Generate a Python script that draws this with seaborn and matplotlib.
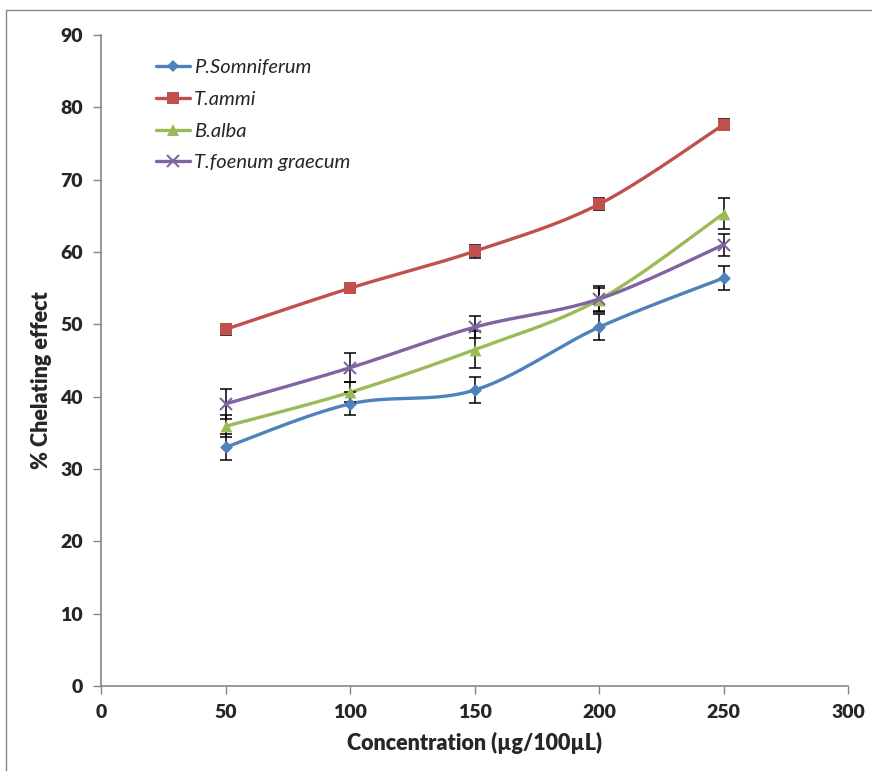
import numpy as np
import pandas as pd
import matplotlib
matplotlib.use("Agg")
import matplotlib.pyplot as plt
import seaborn as sns
from matplotlib.lines import Line2D

# ---- data ----
concentration = [50, 100, 150, 200, 250]
p_somniferum = [33.0, 39.0, 40.9, 49.6, 56.4]
t_ammi = [49.3, 55.0, 60.1, 66.6, 77.6]
b_alba = [35.9, 40.6, 46.5, 53.4, 65.3]
t_foenum = [39.0, 44.0, 49.6, 53.5, 61.0]
err_p_somniferum = [1.8, 1.6, 1.8, 1.8, 1.6]
err_t_ammi = [0.8, 0.7, 0.9, 0.8, 0.8]
err_b_alba = [1.5, 1.4, 2.6, 1.6, 2.1]
err_t_foenum = [2.1, 2.0, 1.5, 1.8, 1.5]
series_names = ["P.Somniferum", "T.ammi", "B.alba", "T.foenum graecum"]
x_ticks = [0, 50, 100, 150, 200, 250, 300]
y_ticks = [0, 10, 20, 30, 40, 50, 60, 70, 80, 90]

series_vals = [p_somniferum, t_ammi, b_alba, t_foenum]
series_errs = [err_p_somniferum, err_t_ammi, err_b_alba, err_t_foenum]
colors = ["#4F81BD", "#C0504D", "#9BBB59", "#8064A2"]
markers = ["D", "s", "^", "x"]
msizes = [6.5, 8.5, 8.5, 9]

sns.set_style("white")
plt.rcParams["font.family"] = ["Lato", "DejaVu Sans"]


def smooth(xs, ys, n=40):
    """Excel-like smoothed line (Catmull-Rom Bezier) through the points."""
    xs = np.asarray(xs, float)
    ys = np.asarray(ys, float)
    P = np.column_stack([xs, ys])
    out = []
    for i in range(len(P) - 1):
        p0 = P[i - 1] if i > 0 else P[i]
        p1 = P[i]
        p2 = P[i + 1]
        p3 = P[i + 2] if i + 2 < len(P) else P[i + 1]
        c1 = p1 + (p2 - p0) / 6.0
        c2 = p2 - (p3 - p1) / 6.0
        t = np.linspace(0, 1, n)[:, None]
        seg = ((1 - t) ** 3) * p1 + 3 * ((1 - t) ** 2) * t * c1 + 3 * (1 - t) * t ** 2 * c2 + t ** 3 * p2
        out.append(seg if i == 0 else seg[1:])
    pts = np.vstack(out)
    return pts[:, 0], pts[:, 1]


fig = plt.figure(figsize=(8.72, 7.71), dpi=100)
ax = fig.add_axes([101 / 872, 1 - 686 / 771, (848 - 101) / 872, (686 - 35) / 771])

handles = []
for name, vals, errs, c, m, ms in zip(series_names, series_vals, series_errs, colors, markers, msizes):
    sx, sy = smooth(concentration, vals)
    df_line = pd.DataFrame({"x": sx, "y": sy})
    sns.lineplot(data=df_line, x="x", y="y", ax=ax, color=c, lw=2.4, sort=False,
                 estimator=None, zorder=2)
    ax.errorbar(concentration, vals, yerr=errs, fmt="none", ecolor="black",
                elinewidth=1.1, capsize=4, capthick=1.1, zorder=3)
    df_pts = pd.DataFrame({"x": concentration, "y": vals})
    if m == "x":
        ax.plot(concentration, vals, linestyle="none", marker=m, markersize=ms,
                markeredgecolor=c, markeredgewidth=1.5, zorder=4)
    else:
        sns.scatterplot(data=df_pts, x="x", y="y", ax=ax, color=c, marker=m,
                        s=ms ** 2, edgecolor=c, linewidth=0, zorder=4)
    handles.append(Line2D([0], [0], color=c, lw=2.4, marker=m,
                          markersize=ms * 0.95, markeredgecolor=c,
                          markeredgewidth=1.5 if m == "x" else 0))

ax.set_xlim(0, 300)
ax.set_ylim(0, 90)
ax.set_xticks(x_ticks)
ax.set_yticks(y_ticks)
ax.set_xticklabels([str(v) for v in x_ticks], fontsize=14, fontweight="heavy")
ax.set_yticklabels([str(v) for v in y_ticks], fontsize=14, fontweight="heavy")
ax.set_xlabel("Concentration (µg/100µL)", fontsize=15.5, fontweight="heavy", labelpad=8)
ax.set_ylabel("% Chelating effect", fontsize=15.5, fontweight="heavy")
ax.yaxis.set_label_coords(-0.066, 0.47)

for s in ["top", "right"]:
    ax.spines[s].set_visible(False)
for s in ["left", "bottom"]:
    ax.spines[s].set_color("#868686")
    ax.spines[s].set_linewidth(1.2)
ax.tick_params(axis="both", direction="out", length=6, width=1.0, color="#868686",
               left=True, bottom=True, pad=7)

leg = ax.legend(handles, series_names, loc="upper left", bbox_to_anchor=(0.063, 0.975),
                frameon=False, prop={"style": "italic", "size": 14.5},
                handlelength=1.7, handletextpad=0.2, labelspacing=0.72, borderaxespad=0)

# outer chart frame
fig.add_artist(Line2D([6 / 872, 6 / 872], [0, 1 - 10 / 771], transform=fig.transFigure,
                      color="#868686", lw=1.0))
fig.add_artist(Line2D([6 / 872, 1], [1 - 10 / 771, 1 - 10 / 771], transform=fig.transFigure,
                      color="#868686", lw=1.0))

fig.savefig("out.png", dpi=100)
